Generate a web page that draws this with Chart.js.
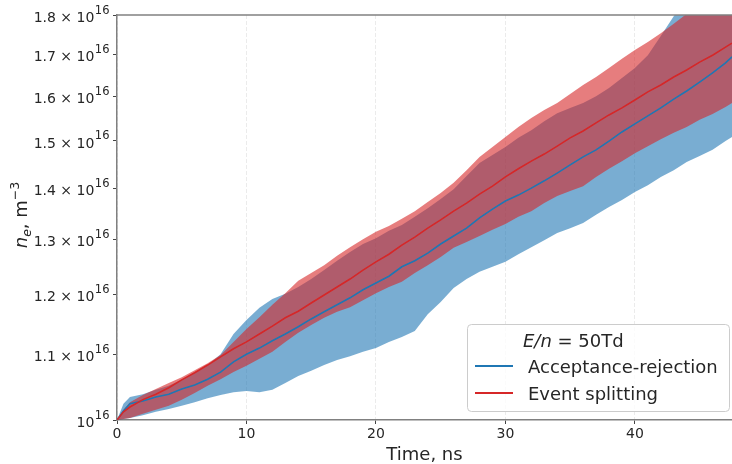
<!DOCTYPE html>
<html><head><meta charset="utf-8">
<script src="https://cdn.jsdelivr.net/npm/chart.js@4.4.1/dist/chart.umd.min.js"></script>
<style>html,body{margin:0;padding:0;background:#fff;}canvas{display:block;}</style>
</head><body>
<canvas id="c" width="732" height="464"></canvas>
<script>
// time, ns
const times = [0,0.5,1,2,3,4,5,6,7,8,9,10,11,12,13,14,15,16,17,18,19,20,21,22,23,24,25,26,27,28,29,30,31,32,33,34,35,36,37,38,39,40,41,42,43,44,45,46,47,47.5];
// n_e in units of 1e16 m^-3
const blueMean = [1.000,1.013,1.024,1.028,1.034,1.038,1.046,1.052,1.061,1.072,1.088,1.100,1.110,1.122,1.133,1.145,1.158,1.170,1.182,1.194,1.208,1.220,1.232,1.249,1.260,1.274,1.291,1.306,1.321,1.341,1.358,1.374,1.386,1.400,1.415,1.431,1.448,1.465,1.480,1.499,1.519,1.537,1.555,1.573,1.593,1.612,1.633,1.655,1.679,1.694];
const blueUpper = [1.000,1.024,1.034,1.038,1.045,1.051,1.060,1.071,1.083,1.100,1.133,1.156,1.177,1.192,1.201,1.213,1.227,1.243,1.260,1.276,1.291,1.302,1.316,1.327,1.343,1.360,1.378,1.398,1.425,1.452,1.469,1.486,1.506,1.523,1.543,1.561,1.573,1.584,1.600,1.619,1.643,1.667,1.698,1.746,1.797,1.840,1.872,1.899,1.922,1.933];
const blueLower = [1.000,1.0015,1.003,1.007,1.012,1.016,1.021,1.026,1.032,1.037,1.041,1.043,1.041,1.045,1.055,1.066,1.074,1.083,1.091,1.097,1.104,1.110,1.120,1.128,1.138,1.166,1.187,1.211,1.227,1.240,1.249,1.258,1.272,1.285,1.298,1.312,1.321,1.331,1.347,1.362,1.376,1.392,1.406,1.423,1.437,1.454,1.467,1.480,1.499,1.508];
const redMean = [1.000,1.012,1.019,1.030,1.038,1.048,1.060,1.071,1.083,1.096,1.109,1.120,1.133,1.146,1.160,1.171,1.185,1.199,1.213,1.227,1.243,1.258,1.272,1.289,1.304,1.321,1.337,1.354,1.370,1.388,1.404,1.423,1.440,1.456,1.471,1.488,1.506,1.521,1.539,1.557,1.573,1.591,1.610,1.626,1.645,1.662,1.681,1.698,1.718,1.728];
const redUpper = [1.000,1.015,1.026,1.037,1.046,1.055,1.064,1.075,1.086,1.099,1.120,1.141,1.161,1.182,1.202,1.224,1.238,1.252,1.269,1.285,1.300,1.314,1.325,1.339,1.354,1.372,1.390,1.411,1.437,1.465,1.486,1.508,1.530,1.550,1.568,1.584,1.605,1.626,1.645,1.667,1.689,1.711,1.731,1.753,1.777,1.803,1.826,1.850,1.872,1.883];
const redLower = [1.000,1.0015,1.003,1.009,1.015,1.021,1.030,1.040,1.051,1.061,1.072,1.082,1.093,1.104,1.120,1.135,1.148,1.160,1.170,1.178,1.190,1.202,1.213,1.222,1.238,1.252,1.267,1.284,1.295,1.306,1.318,1.329,1.343,1.354,1.370,1.384,1.394,1.404,1.423,1.440,1.456,1.473,1.488,1.503,1.517,1.530,1.546,1.559,1.575,1.584];

const xTickValues = [0,10,20,30,40];
const yTickValues = [1.0,1.1,1.2,1.3,1.4,1.5,1.6,1.7,1.8];
const yTickMantissa = ['','1.1 \u00d7 ','1.2 \u00d7 ','1.3 \u00d7 ','1.4 \u00d7 ','1.5 \u00d7 ','1.6 \u00d7 ','1.7 \u00d7 ','1.8 \u00d7 '];
const yTickBase = '10', yTickExp = '16';
const seriesNames = ['Acceptance-rejection','Event splitting'];
const xTitle = 'Time, ns';

const FONT = "'DejaVu Sans', sans-serif";
const TXT = '#262626';
const BLUE = '#1f77b4', RED = '#d62728';
const BLUE_FILL = 'rgba(31,119,180,0.6)', RED_FILL = 'rgba(214,39,40,0.6)';
const pts = ys => times.map((t,i)=>({x:t,y:ys[i]}));

const extras = {
  id: 'extras',
  afterDraw(chart) {
    const ctx = chart.ctx, a = chart.chartArea, ys = chart.scales.y;
    ctx.save();
    // top spine
    ctx.strokeStyle = '#808080'; ctx.lineWidth = 1.5;
    ctx.beginPath(); ctx.moveTo(a.left - 0.75, a.top); ctx.lineTo(a.right, a.top); ctx.stroke();

    // y tick labels with superscript exponent
    ctx.fillStyle = TXT; ctx.textBaseline = 'alphabetic'; ctx.textAlign = 'left';
    yTickValues.forEach((v, i) => {
      const yy = ys.getPixelForValue(v);
      const right = a.left - 8;
      ctx.font = '11.5px ' + FONT; const we = ctx.measureText(yTickExp).width;
      ctx.font = '14px ' + FONT; const main = yTickMantissa[i] + yTickBase; const wm = ctx.measureText(main).width;
      const x0 = right - we - wm;
      ctx.fillText(main, x0, yy + 7);
      ctx.font = '11.5px ' + FONT; ctx.fillText(yTickExp, x0 + wm + 0.5, yy - 1.5);
    });

    // legend
    const bw = 262, bh = 87;
    const bx = a.right - bw - 3, by = a.bottom - bh - 9;
    ctx.beginPath();
    if (ctx.roundRect) ctx.roundRect(bx + 0.5, by + 0.5, bw, bh, 4); else ctx.rect(bx + 0.5, by + 0.5, bw, bh);
    ctx.fillStyle = 'rgba(255,255,255,0.8)'; ctx.fill();
    ctx.strokeStyle = '#cccccc'; ctx.lineWidth = 1; ctx.stroke();

    ctx.fillStyle = TXT;
    let tx = bx + 56; const ty = by + 23;
    ctx.font = 'italic 18px ' + FONT; ctx.fillText('E/n', tx, ty); tx += ctx.measureText('E/n').width;
    ctx.font = '18px ' + FONT; ctx.fillText(' = 50Td', tx, ty);

    const rows = [[BLUE, seriesNames[0], by + 42], [RED, seriesNames[1], by + 69]];
    rows.forEach(([col, name, yy]) => {
      ctx.strokeStyle = col; ctx.lineWidth = 2;
      ctx.beginPath(); ctx.moveTo(bx + 8, yy); ctx.lineTo(bx + 46, yy); ctx.stroke();
      ctx.fillStyle = TXT; ctx.font = '18px ' + FONT;
      ctx.fillText(name, bx + 61, yy + 6.5);
    });

    // y axis title: n_e, m^-3
    ctx.translate(27, 215); ctx.rotate(-Math.PI / 2);
    const parts = [
      {t: 'n', f: 'italic 18px ' + FONT, dy: 0},
      {t: 'e', f: 'italic 12.5px ' + FONT, dy: 4},
      {t: ', m', f: '18px ' + FONT, dy: 0},
      {t: '\u22123', f: '12.5px ' + FONT, dy: -8}
    ];
    let total = 0;
    parts.forEach(p => { ctx.font = p.f; p.w = ctx.measureText(p.t).width; total += p.w; });
    let px = -total / 2;
    ctx.fillStyle = TXT;
    parts.forEach(p => { ctx.font = p.f; ctx.fillText(p.t, px, p.dy); px += p.w; });
    ctx.restore();
  }
};

new Chart(document.getElementById('c'), {
  type: 'line',
  data: {
    datasets: [
      {label: 'blue lower', data: pts(blueLower), borderWidth: 0, pointRadius: 0, fill: false, order: 4, borderColor: 'rgba(0,0,0,0)'},
      {label: 'blue band', data: pts(blueUpper), borderWidth: 0, pointRadius: 0, fill: '-1', backgroundColor: BLUE_FILL, order: 4, borderColor: 'rgba(0,0,0,0)'},
      {label: 'red lower', data: pts(redLower), borderWidth: 0, pointRadius: 0, fill: false, order: 3, borderColor: 'rgba(0,0,0,0)'},
      {label: 'red band', data: pts(redUpper), borderWidth: 0, pointRadius: 0, fill: '-1', backgroundColor: RED_FILL, order: 3, borderColor: 'rgba(0,0,0,0)'},
      {label: seriesNames[0], data: pts(blueMean), borderColor: BLUE, borderWidth: 1.6, pointRadius: 0, fill: false, order: 2},
      {label: seriesNames[1], data: pts(redMean), borderColor: RED, borderWidth: 1.6, pointRadius: 0, fill: false, order: 1}
    ]
  },
  options: {
    responsive: false,
    animation: false,
    devicePixelRatio: 1,
    layout: {padding: {top: 15, right: 0, bottom: 0, left: 0}},
    elements: {line: {tension: 0}},
    plugins: {legend: {display: false}, tooltip: {enabled: false}},
    scales: {
      x: {
        type: 'linear', min: 0, max: 47.5,
        afterBuildTicks: s => { s.ticks = xTickValues.map(v => ({value: v})); },
        afterFit: s => { s.height = 44; },
        ticks: {font: {family: FONT, size: 14}, color: TXT, padding: 2, includeBounds: false, maxRotation: 0},
        grid: {color: '#e6e6e6', lineWidth: 0.8, tickColor: '#444', tickLength: 4, tickWidth: 1},
        border: {color: '#808080', width: 1.5, dash: [4, 2]},
        title: {display: true, text: xTitle, color: TXT, font: {family: FONT, size: 18, lineHeight: 1}, padding: {top: 0, bottom: 0}}
      },
      y: {
        type: 'logarithmic', min: 1, max: 1.8,
        afterBuildTicks: s => { s.ticks = yTickValues.map(v => ({value: v})); },
        afterFit: s => { s.width = 117; },
        ticks: {display: false},
        grid: {drawOnChartArea: false, tickColor: '#444', tickLength: 4, tickWidth: 1},
        border: {color: '#808080', width: 1.5}
      }
    }
  },
  plugins: [extras]
});
</script>
</body></html>
